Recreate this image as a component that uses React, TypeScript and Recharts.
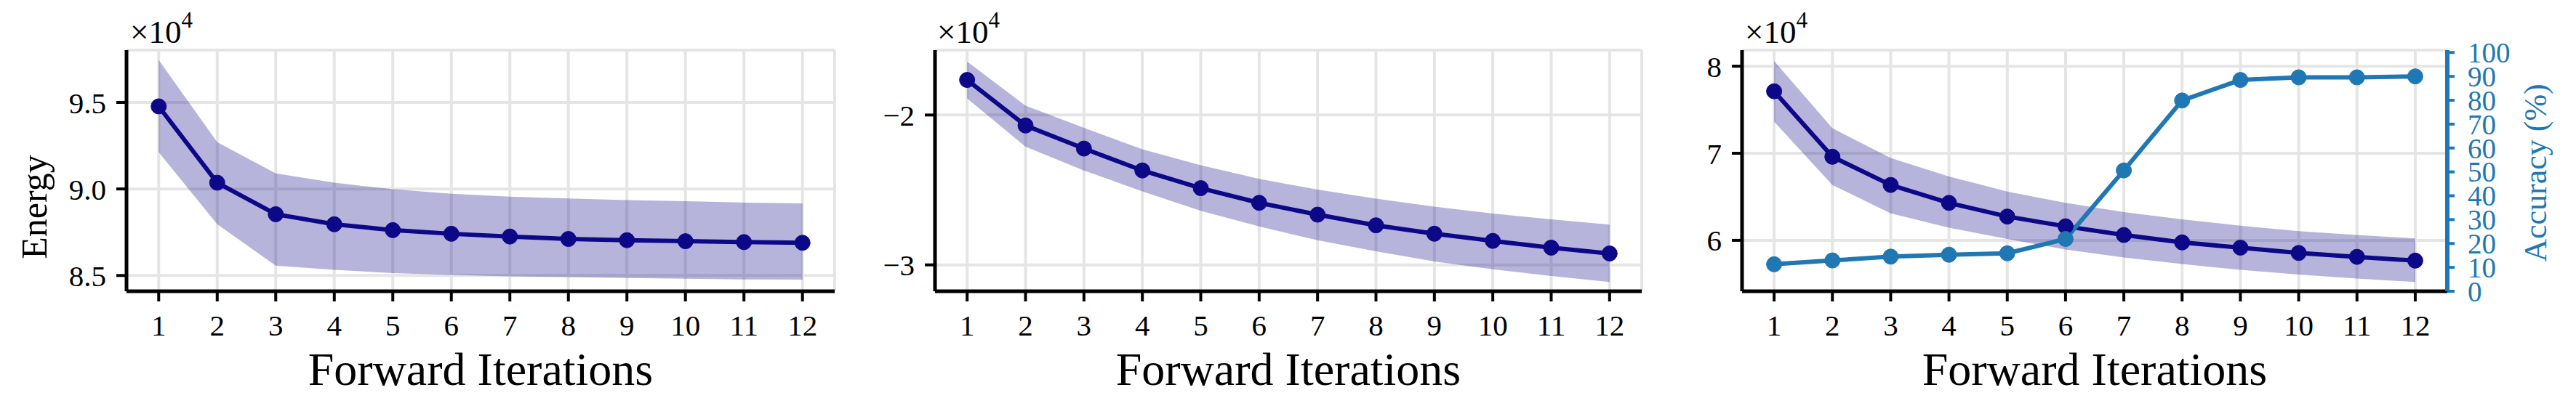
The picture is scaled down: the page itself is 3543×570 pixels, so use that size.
import { ComposedChart, Line, Area, XAxis, YAxis, CartesianGrid } from 'recharts';

const FONT = '"Liberation Serif", "DejaVu Serif", serif';
const NAVY = '#0d0887';
const BLUE = '#1f77b4';

const iterations = [1, 2, 3, 4, 5, 6, 7, 8, 9, 10, 11, 12];

// energy values are in units of 1e4
const energyA = [9.477, 9.036, 8.854, 8.796, 8.762, 8.741, 8.725, 8.711, 8.704, 8.698, 8.693, 8.689];
const energyAHi = [9.745, 9.27, 9.09, 9.036, 8.998, 8.972, 8.956, 8.945, 8.936, 8.929, 8.921, 8.917];
const energyALo = [9.212, 8.796, 8.557, 8.533, 8.514, 8.503, 8.495, 8.491, 8.486, 8.481, 8.477, 8.476];

const energyB = [-1.766, -2.07, -2.224, -2.37, -2.488, -2.586, -2.665, -2.736, -2.792, -2.84, -2.885, -2.924];
const energyBHi = [-1.643, -1.938, -2.085, -2.229, -2.335, -2.426, -2.498, -2.558, -2.611, -2.657, -2.696, -2.731];
const energyBLo = [-1.889, -2.211, -2.37, -2.51, -2.639, -2.744, -2.836, -2.91, -2.977, -3.03, -3.074, -3.114];

const energyC = [7.712, 6.96, 6.636, 6.43, 6.273, 6.161, 6.061, 5.976, 5.916, 5.855, 5.81, 5.767];
const energyCHi = [8.06, 7.288, 6.945, 6.734, 6.561, 6.43, 6.324, 6.242, 6.167, 6.106, 6.061, 6.022];
const energyCLo = [7.363, 6.636, 6.309, 6.145, 6.015, 5.894, 5.803, 5.727, 5.661, 5.606, 5.561, 5.521];

const accuracy = [11.3, 12.9, 14.5, 15.3, 15.9, 21.9, 50.6, 79.9, 88.5, 89.6, 89.6, 90.0];

const ticksA = [8.5, 9.0, 9.5];
const ticksB = [-3, -2];
const ticksC = [6, 7, 8];
const accTicks = [0, 10, 20, 30, 40, 50, 60, 70, 80, 90, 100];

const Y_W = 174;
const R_W = 177;

const minus = (v: number) => (v < 0 ? '\u2212' + Math.abs(v) : String(v));

function makeRows(mean: number[], lo: number[], hi: number[], acc?: number[]) {
  return iterations.map((it, i) => ({
    it,
    mean: mean[i],
    band: [lo[i], hi[i]],
    acc: acc ? acc[i] : undefined,
  }));
}

const xTitle = (props: any) => {
  const vb = props.viewBox;
  return (
    <text x={vb.x + vb.width / 2} y={530} textAnchor="middle" fontSize={64} fontFamily={FONT} fill="#000">
      Forward Iterations
    </text>
  );
};

const energyTitle = () => (
  <text x={64} y={285} transform="rotate(-90, 64, 285)" textAnchor="middle" fontSize={50} fontFamily={FONT} fill="#000">
    Energy
  </text>
);

const accTitle = (props: any) => {
  const x = props.viewBox.x + 136;
  return (
    <text x={x} y={238} transform={`rotate(-90, ${x}, 238)`} textAnchor="middle" fontSize={44} fontFamily={FONT} fill={BLUE}>
      Accuracy (%)
    </text>
  );
};

interface PanelProps {
  left: number;
  plotW: number;
  rows: any[];
  domain: [number, number];
  ticks: number[];
  fmt: (v: number) => string;
  withEnergyLabel?: boolean;
  withAcc?: boolean;
}

function Panel({ left, plotW, rows, domain, ticks, fmt, withEnergyLabel, withAcc }: PanelProps) {
  const width = Y_W + plotW + (withAcc ? R_W : 30);
  return (
    <div style={{ position: 'absolute', left, top: 0 }}>
      <ComposedChart width={width} height={570} data={rows} margin={{ top: 69, right: withAcc ? 0 : 30, bottom: 0, left: 0 }}>
        <CartesianGrid stroke="#e5e5e5" strokeWidth={4} />
        <XAxis
          dataKey="it"
          type="number"
          domain={[0.45, 12.55]}
          ticks={iterations}
          interval={0}
          allowDataOverflow
          height={169}
          tickSize={14}
          tickMargin={18}
          axisLine={{ stroke: '#000', strokeWidth: 5 }}
          tickLine={{ stroke: '#000', strokeWidth: 4 }}
          tick={{ fill: '#000', fontSize: 41, fontFamily: FONT }}
          label={xTitle}
        />
        <YAxis
          type="number"
          domain={domain}
          ticks={ticks}
          interval={0}
          allowDataOverflow
          width={Y_W}
          tickSize={14}
          tickMargin={14}
          tickFormatter={fmt}
          axisLine={{ stroke: '#000', strokeWidth: 5 }}
          tickLine={{ stroke: '#000', strokeWidth: 4 }}
          tick={{ fill: '#000', fontSize: 41, fontFamily: FONT }}
          label={withEnergyLabel ? energyTitle : undefined}
        />
        {withAcc && (
          <YAxis
            yAxisId="acc"
            orientation="right"
            type="number"
            domain={[0, 101]}
            ticks={accTicks}
            interval={0}
            allowDataOverflow
            width={R_W}
            tickSize={10}
            tickMargin={18}
            axisLine={{ stroke: BLUE, strokeWidth: 6 }}
            tickLine={{ stroke: BLUE, strokeWidth: 4 }}
            tick={{ fill: BLUE, fontSize: 39, fontFamily: FONT }}
            label={accTitle}
          />
        )}
        <Area
          dataKey="band"
          type="linear"
          stroke="none"
          fill={NAVY}
          fillOpacity={0.3}
          activeDot={false}
          isAnimationActive={false}
        />
        <Line
          dataKey="mean"
          type="linear"
          stroke={NAVY}
          strokeWidth={6}
          dot={{ r: 10.5, fill: NAVY, stroke: NAVY, strokeWidth: 1 }}
          activeDot={false}
          isAnimationActive={false}
        />
        {withAcc && (
          <Line
            yAxisId="acc"
            dataKey="acc"
            type="linear"
            stroke={BLUE}
            strokeWidth={6}
            dot={{ r: 10.5, fill: BLUE, stroke: BLUE, strokeWidth: 1 }}
            activeDot={false}
            isAnimationActive={false}
          />
        )}
      </ComposedChart>
    </div>
  );
}

function Scale({ x }: { x: number }) {
  return (
    <text x={x} y={59} fontSize={45} fontFamily={FONT} fill="#000">
      ×10
      <tspan fontSize={31} dy={-21}>4</tspan>
    </text>
  );
}

export default function App() {
  return (
    <div style={{ position: 'absolute', left: 0, top: 0, width: 3543, height: 570, background: '#fff' }}>
      <Panel
        left={0}
        plotW={974}
        rows={makeRows(energyA, energyALo, energyAHi)}
        domain={[8.409, 9.802]}
        ticks={ticksA}
        fmt={(v) => v.toFixed(1)}
        withEnergyLabel
      />
      <Panel
        left={1286 - Y_W}
        plotW={972}
        rows={makeRows(energyB, energyBLo, energyBHi)}
        domain={[-3.176, -1.567]}
        ticks={ticksB}
        fmt={minus}
      />
      <Panel
        left={2396 - Y_W}
        plotW={970}
        rows={makeRows(energyC, energyCLo, energyCHi, accuracy)}
        domain={[5.415, 8.185]}
        ticks={ticksC}
        fmt={(v) => String(v)}
        withAcc
      />
      <svg width={3543} height={570} style={{ position: 'absolute', left: 0, top: 0, pointerEvents: 'none' }}>
        <Scale x={179} />
        <Scale x={1289} />
        <Scale x={2400} />
      </svg>
    </div>
  );
}
